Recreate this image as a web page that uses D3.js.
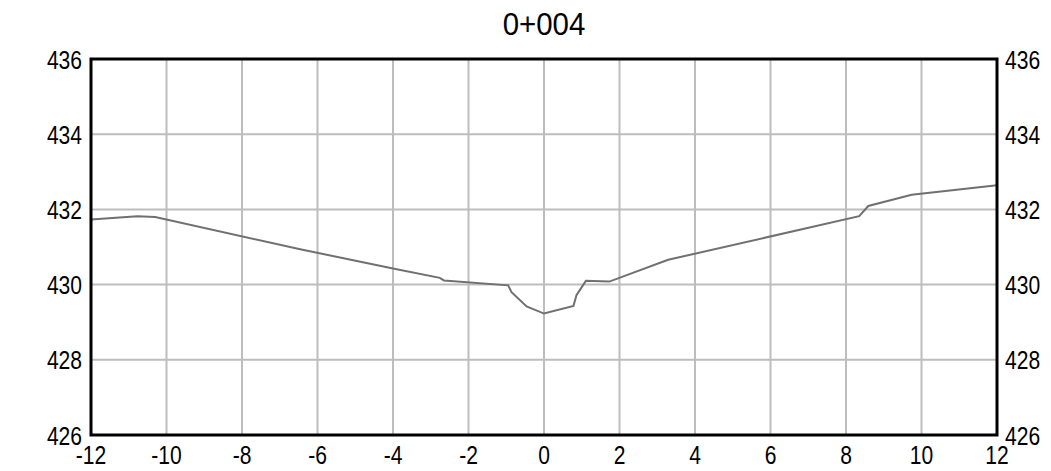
<!DOCTYPE html>
<html><head><meta charset="utf-8">
<script src="https://cdn.jsdelivr.net/npm/d3@7"></script>
<style>body{margin:0;background:#fff}svg text{font-family:"Liberation Sans",Arial,sans-serif;}</style>
</head><body><svg id="c" width="1051" height="471"></svg>
<script>
const title = "0+004";
const offsets = [-12, -10.77, -10.3, -6.46, -4, -2.76, -2.65, -0.95, -0.86, -0.46, 0, 0.78, 0.86, 1.11, 1.73, 3.29, 8.35, 8.59, 9.74, 12];
const elevations = [431.73, 431.82, 431.8, 430.94, 430.43, 430.18, 430.11, 429.98, 429.8, 429.42, 429.23, 429.43, 429.72, 430.1, 430.08, 430.66, 431.82, 432.09, 432.39, 432.64];
const xTicks = [-12,-10,-8,-6,-4,-2,0,2,4,6,8,10,12];
const yTicks = [426,428,430,432,434,436];

const svg = d3.select("#c");
const L=91, R=997, T=59, B=435;
const x = d3.scaleLinear().domain([-12,12]).range([L,R]);
const y = d3.scaleLinear().domain([426,436]).range([B,T]);

// grid
svg.append("g").selectAll("line").data(xTicks).join("line")
  .attr("x1",d=>x(d)).attr("x2",d=>x(d)).attr("y1",T).attr("y2",B)
  .attr("stroke","#bdbdbd").attr("stroke-width",2);
svg.append("g").selectAll("line").data(yTicks).join("line")
  .attr("x1",L).attr("x2",R).attr("y1",d=>y(d)).attr("y2",d=>y(d))
  .attr("stroke","#bdbdbd").attr("stroke-width",2);

// data line
const pts = offsets.map((o,i)=>[o,elevations[i]]);
svg.append("path").datum(pts)
  .attr("d", d3.line().x(d=>x(d[0])).y(d=>y(d[1])))
  .attr("fill","none").attr("stroke","#707070").attr("stroke-width",2);

// frame
svg.append("rect").attr("x",L).attr("y",T).attr("width",R-L).attr("height",B-T)
  .attr("fill","none").attr("stroke","#000").attr("stroke-width",3);

// axes labels (condensed)
const fs = 26, sx = 0.81;
svg.append("g").selectAll("text").data(yTicks).join("text")
  .attr("transform",d=>`translate(${L-9},${y(d)+9.5}) scale(${sx},1)`)
  .attr("text-anchor","end").attr("font-size",fs).text(d=>d);
svg.append("g").selectAll("text").data(yTicks).join("text")
  .attr("transform",d=>`translate(${R+8},${y(d)+9.5}) scale(${sx},1)`)
  .attr("text-anchor","start").attr("font-size",fs).text(d=>d);
svg.append("g").selectAll("text").data(xTicks).join("text")
  .attr("transform",d=>`translate(${x(d)},${B+29}) scale(${sx},1)`)
  .attr("text-anchor","middle").attr("font-size",fs).text(d=>d);

svg.append("text").attr("transform",`translate(${(L+R)/2},${T-24}) scale(0.92,1)`)
  .attr("text-anchor","middle").attr("font-size",32).text(title);
</script></body></html>
